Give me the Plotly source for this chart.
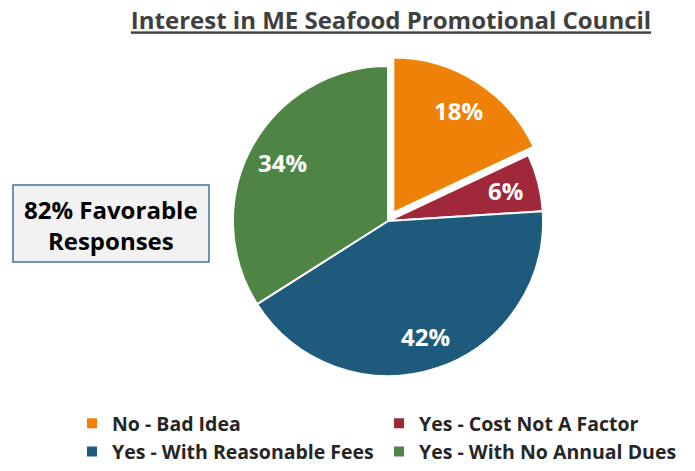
import math
import plotly.graph_objects as go

# Survey responses (percent of respondents)
labels = ["No - Bad Idea", "Yes - Cost Not A Factor",
          "Yes - With Reasonable Fees", "Yes - With No Annual Dues"]
values = [18, 6, 42, 34]
colors = ["#EE8208", "#A0283A", "#1D5A7C", "#4E8544"]
pulls = [0.064, 0, 0, 0]

W, H = 695, 471
FONT = "Open Sans"

# pie domain in pixels (left, right, top, bottom)
DX0, DX1, DY0, DY1 = 223, 553, 56, 386
cx, cy = (DX0 + DX1) / 2, (DY0 + DY1) / 2
radius = min(DX1 - DX0, DY1 - DY0) / 2 / (1 + max(pulls))
LABEL_R = 0.78  # radial position of the percent labels

fig = go.Figure(go.Pie(
    labels=labels,
    values=values,
    sort=False,
    direction="clockwise",
    rotation=0,
    pull=pulls,
    marker=dict(colors=colors, line=dict(color="white", width=2)),
    textinfo="none",
    hoverinfo="label+percent",
    domain=dict(x=[DX0 / W, DX1 / W], y=[1 - DY1 / H, 1 - DY0 / H]),
))

# percent labels placed along each slice's bisector
total = sum(values)
annotations = []
cum = 0
for v, p in zip(values, pulls):
    mid = 2 * math.pi * (cum + v / 2) / total
    cum += v
    r = radius * (LABEL_R + p)
    px = cx + r * math.sin(mid)
    py = cy - r * math.cos(mid)
    annotations.append(dict(
        text=f"<b>{v}%</b>", xref="paper", yref="paper",
        x=px / W, y=1 - py / H, xanchor="center", yanchor="middle",
        showarrow=False, font=dict(family=FONT, size=24, color="white"),
    ))

annotations.append(dict(
    text="<b>82% Favorable<br>Responses</b>",
    xref="paper", yref="paper",
    x=111 / W, y=1 - 225 / H, xanchor="center", yanchor="middle",
    showarrow=False, align="center",
    font=dict(family=FONT, size=24, color="black"),
))

fig.update_layout(
    width=W, height=H,
    margin=dict(l=0, r=0, t=0, b=0),
    paper_bgcolor="white",
    plot_bgcolor="white",
    title=dict(
        text="<b><u>Interest in ME Seafood Promotional Council</u></b>",
        x=391 / W, xanchor="center", y=1 - 21 / H, yanchor="middle",
        font=dict(family=FONT, size=24, color="#404040"),
    ),
    legend=dict(
        orientation="h",
        x=72 / W, xanchor="left",
        y=0, yanchor="bottom",
        entrywidth=262, entrywidthmode="pixels",
        font=dict(family=FONT, size=19.5, color="#262626", weight="bold"),
        itemclick=False, itemdoubleclick=False,
    ),
    shapes=[dict(
        type="rect", xref="paper", yref="paper",
        x0=13 / W, x1=209 / W, y0=1 - 262 / H, y1=1 - 185 / H,
        fillcolor="#F2F2F2", line=dict(color="#41719C", width=1.5),
        layer="below",
    )],
    annotations=annotations,
)

fig.write_html("out.html")
